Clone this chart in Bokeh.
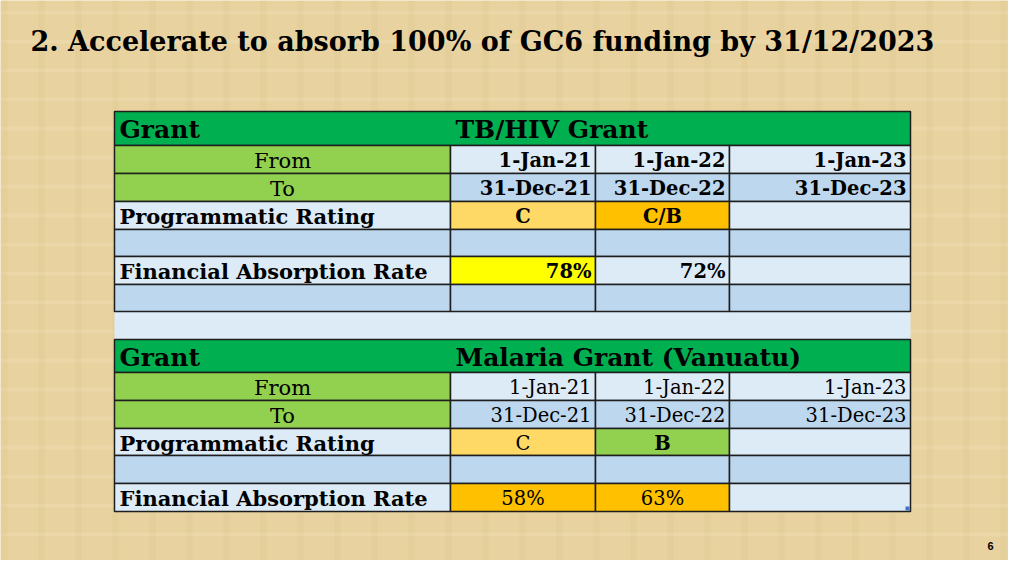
from bokeh.plotting import figure
from bokeh.models import Range1d, ColumnDataSource
from bokeh.core.properties import value
from bokeh.embed import file_html
from bokeh.resources import INLINE

# ---------------- data ----------------
title = "2. Accelerate to absorb 100% of GC6 funding by 31/12/2023"
header_label = "Grant"
grant_names = ["TB/HIV Grant", "Malaria Grant (Vanuatu)"]
row_labels = ["From", "To", "Programmatic Rating", "", "Financial Absorption Rate", ""]
period_from = ["1-Jan-21", "1-Jan-22", "1-Jan-23"]
period_to = ["31-Dec-21", "31-Dec-22", "31-Dec-23"]
tb_rating = ["C", "C/B", ""]
tb_absorption = ["78%", "72%", ""]
mal_rating = ["C", "B", ""]
mal_absorption = ["58%", "63%", ""]
page_number = "6"

# ---------------- styles / layout ----------------
FONT = "DejaVu Serif"
GREEN_D = "#00B050"
GREEN_L = "#92D050"
BLUE_L = "#DDEBF7"
BLUE_D = "#BDD7EE"
ORANGE_L = "#FFD966"
ORANGE = "#FFC000"
YELLOW = "#FFFF00"
BG = "#E8D3A0"
LINE = "#1E1E1E"

rating_fill = {"C": ORANGE_L, "C/B": ORANGE, "B": GREEN_L, "": BLUE_L}
tb_abs_fill = [YELLOW, BLUE_L, BLUE_L]
mal_abs_fill = [ORANGE, ORANGE, BLUE_L]

col_edges = [114, 450, 595, 729, 910]
t1_rows = [111, 145, 173, 201, 229, 256, 284, 311]
t2_rows = [339, 372, 400, 428, 455, 483, 511]

p = figure(width=1008, height=560, output_backend="svg", toolbar_location=None,
           x_range=Range1d(0, 1008), y_range=Range1d(560, 0),
           min_border=0)
p.axis.visible = False
p.grid.visible = False
p.outline_line_color = None
p.background_fill_color = BG
p.border_fill_color = BG

# subtle parchment texture stripes (decorative background)
tex_x = list(range(4, 1008, 37))
p.vbar(x=tex_x, width=6, top=0, bottom=560, fill_color="#D8BE86", fill_alpha=0.22, line_color=None)
tex_y = list(range(12, 560, 29))
p.hbar(y=tex_y, height=4, left=0, right=1008, fill_color="#F3E4BC", fill_alpha=0.25, line_color=None)

quads = dict(left=[], right=[], top=[], bottom=[], fill=[])
texts = []  # (x, y, text, align, style, size)

LABEL_FS = "21px"
DATA_FS = "19.5px"
HEAD_FS = "25px"


def cell(l, r, t, b, fill):
    quads["left"].append(l); quads["right"].append(r)
    quads["top"].append(t); quads["bottom"].append(b)
    quads["fill"].append(fill)


def build_table(rows, name, from_vals, to_vals, ratings, absorption, abs_fill, bold_dates, bold_rating, n_rows):
    L, R = col_edges[0], col_edges[-1]
    cell(L, R, rows[0], rows[1], GREEN_D)
    hy = (rows[0] + rows[1]) / 2 + 1
    texts.append((L + 5, hy, header_label, "left", "bold", HEAD_FS))
    texts.append((col_edges[1] + 5, hy, name, "left", "bold", HEAD_FS))
    for i in range(n_rows):
        t, b = rows[i + 1], rows[i + 2]
        ym = (t + b) / 2 + 1
        lab = row_labels[i]
        label_fill = GREEN_L if i in (0, 1) else (BLUE_L if i % 2 == 0 else BLUE_D)
        cell(col_edges[0], col_edges[1], t, b, label_fill)
        if lab:
            if i in (0, 1):
                texts.append(((col_edges[0] + col_edges[1]) / 2, ym, lab, "center", "normal", LABEL_FS))
            else:
                texts.append((col_edges[0] + 5, ym, lab, "left", "bold", LABEL_FS))
        for j in range(3):
            cl, cr = col_edges[j + 1], col_edges[j + 2]
            ds = "bold" if bold_dates else "normal"
            if i == 0:
                fill = BLUE_L
                texts.append((cr - 4, ym, from_vals[j], "right", ds, DATA_FS))
            elif i == 1:
                fill = BLUE_D
                texts.append((cr - 4, ym, to_vals[j], "right", ds, DATA_FS))
            elif i == 2:
                fill = rating_fill[ratings[j]]
                if ratings[j]:
                    texts.append(((cl + cr) / 2, ym, ratings[j], "center", bold_rating[j], DATA_FS))
            elif i == 4:
                fill = abs_fill[j]
                if absorption[j]:
                    if bold_dates:
                        texts.append((cr - 4, ym, absorption[j], "right", "bold", DATA_FS))
                    else:
                        texts.append(((cl + cr) / 2, ym, absorption[j], "center", "normal", DATA_FS))
            else:
                fill = BLUE_D
            cell(cl, cr, t, b, fill)


# gap band between the two tables
p.quad(left=col_edges[0], right=col_edges[-1], top=t1_rows[-1], bottom=t2_rows[0],
       fill_color=BLUE_L, line_color=None)

build_table(t1_rows, grant_names[0], period_from, period_to, tb_rating, tb_absorption,
            tb_abs_fill, True, ["bold", "bold", "bold"], 6)
build_table(t2_rows, grant_names[1], period_from, period_to, mal_rating, mal_absorption,
            mal_abs_fill, False, ["normal", "bold", "normal"], 5)

p.quad(left="left", right="right", top="top", bottom="bottom", fill_color="fill",
       line_color=LINE, line_width=1.5, source=ColumnDataSource(quads))

# Excel resize handle mark
p.quad(left=[905], right=[909], top=[506], bottom=[510], fill_color="#4472C4", line_color=None)

groups = {}
for t in texts:
    groups.setdefault((t[3], t[4], t[5]), []).append(t)
for (align, style, fs), sel in groups.items():
    src = ColumnDataSource(dict(x=[s[0] for s in sel], y=[s[1] for s in sel], t=[s[2] for s in sel]))
    p.text(x="x", y="y", text="t", source=src, text_font=value(FONT), text_font_size=fs,
           text_font_style=style, text_align=align, text_baseline="middle", text_color="#000000")

# title
p.text(x=[30], y=[41], text=[title], text_font=value(FONT), text_font_size="27px",
       text_font_style="bold", text_align="left", text_baseline="middle", text_color="#000000")

# page number
p.text(x=[990], y=[545], text=[page_number], text_font=value("Liberation Sans"), text_font_size="11px",
       text_font_style="bold", text_align="center", text_baseline="middle", text_color="#000000")

open("out.html", "w").write(file_html(p, INLINE))
